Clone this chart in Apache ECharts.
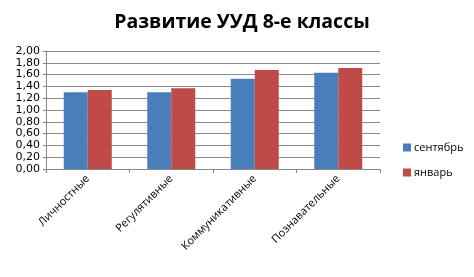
<!DOCTYPE html>
<html><head><meta charset="utf-8">
<script src="https://cdn.jsdelivr.net/npm/echarts@6/dist/echarts.min.js"></script>
<style>html,body{margin:0;padding:0;background:#fff}#c{width:474px;height:277px}</style>
</head><body><div id="c"></div>
<script>
const categories = ['Личностные', 'Регулятивные', 'Коммуникативные', 'Познавательные'];
const september = [1.30, 1.30, 1.53, 1.63];
const january = [1.34, 1.37, 1.68, 1.71];
const seriesNames = ['сентябрь', 'январь'];
const chart = echarts.init(document.getElementById('c'));
const font = '"Open Sans", "DejaVu Sans", sans-serif';
chart.setOption({
  animation: false,
  backgroundColor: '#fff',
  title: {
    text: 'Развитие УУД 8-е классы', left: 237, top: 7, textAlign: 'center',
    textStyle: { fontFamily: font, fontSize: 19.5, fontWeight: 'bold', color: '#000' }
  },
  legend: {
    orient: 'vertical', left: 398, top: 137, itemWidth: 8, itemHeight: 8, itemGap: 14,
    icon: 'rect',
    textStyle: { fontFamily: font, fontSize: 11, color: '#000', padding: [0, 0, 0, -2] },
    data: seriesNames
  },
  grid: { left: 46, top: 51, right: 94, bottom: 108 },
  xAxis: {
    type: 'category', data: categories,
    axisLine: { lineStyle: { color: '#888' } },
    axisTick: { show: true, length: 4, lineStyle: { color: '#888' } },
    axisLabel: { rotate: 45, fontFamily: font, fontSize: 11, color: '#000', margin: 8 }
  },
  yAxis: {
    type: 'value', min: 0, max: 2, interval: 0.2,
    axisLine: { show: true, lineStyle: { color: '#888' } },
    axisTick: { show: true, length: 3, lineStyle: { color: '#888' } },
    splitLine: { lineStyle: { color: '#8a8a8a' } },
    axisLabel: { fontFamily: '"DejaVu Sans", sans-serif', fontSize: 11, color: '#000', margin: 6,
      formatter: v => v.toFixed(2).replace('.', ',') }
  },
  series: [
    { name: seriesNames[0], type: 'bar', data: september, barWidth: 24, barGap: '0%', itemStyle: { color: '#4a7ebb' } },
    { name: seriesNames[1], type: 'bar', data: january, barWidth: 24, barGap: '0%', itemStyle: { color: '#be4b48' } }
  ]
});
</script></body></html>
